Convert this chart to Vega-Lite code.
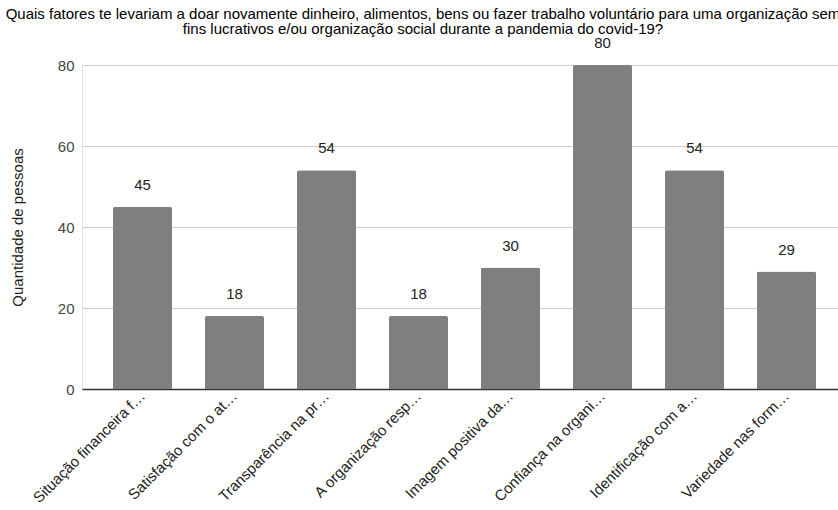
{
  "$schema": "https://vega.github.io/schema/vega-lite/v6.json",
  "autosize": {"type": "none"},
  "width": 756,
  "height": 324,
  "padding": {"left": 82, "top": 65, "right": 0, "bottom": 121},
  "background": "white",
  "title": {
    "text": [
      "Quais fatores te levariam a doar novamente dinheiro, alimentos, bens ou fazer trabalho voluntário para uma organização sem",
      "fins lucrativos e/ou organização social durante a pandemia do covid-19?"
    ],
    "anchor": "middle",
    "frame": "group",
    "dx": -37,
    "offset": -1,
    "font": "Liberation Sans",
    "fontSize": 15,
    "fontWeight": "normal",
    "color": "#000000",
    "lineHeight": 15
  },
  "data": {
    "values": [
      {"fator": "Situação financeira f…", "pessoas": 45},
      {"fator": "Satisfação com o at…", "pessoas": 18},
      {"fator": "Transparência na pr…", "pessoas": 54},
      {"fator": "A organização resp…", "pessoas": 18},
      {"fator": "Imagem positiva da…", "pessoas": 30},
      {"fator": "Confiança na organi…", "pessoas": 80},
      {"fator": "Identificação com a…", "pessoas": 54},
      {"fator": "Variedade nas form…", "pessoas": 29}
    ]
  },
  "encoding": {
    "x": {
      "field": "fator",
      "type": "nominal",
      "sort": null,
      "scale": {"paddingInner": 0.3587, "paddingOuter": 0.288, "align": 0.585},
      "axis": {
        "title": null,
        "labelAngle": -45,
        "labelAlign": "right",
        "labelBaseline": "middle",
        "labelFont": "Liberation Sans",
        "labelFontSize": 15,
        "labelColor": "#222222",
        "labelPadding": 4,
        "labelLimit": 220,
        "ticks": false,
        "domain": true,
        "domainColor": "#333333",
        "domainWidth": 1.5,
        "grid": false
      }
    },
    "y": {
      "field": "pessoas",
      "type": "quantitative",
      "scale": {"domain": [0, 80], "nice": false},
      "axis": {
        "title": "Quantidade de pessoas",
        "titleFont": "Liberation Sans",
        "titleFontSize": 15,
        "titleFontWeight": "normal",
        "titleColor": "#222222",
        "titlePadding": 32,
        "values": [0, 20, 40, 60, 80],
        "labelFont": "Liberation Sans",
        "labelFontSize": 15,
        "labelColor": "#444444",
        "labelPadding": 8,
        "ticks": false,
        "domain": false,
        "grid": true,
        "gridColor": "#cccccc",
        "gridWidth": 1
      }
    }
  },
  "layer": [
    {
      "mark": {"type": "bar", "color": "#7f7f7f", "cornerRadiusTopLeft": 2, "cornerRadiusTopRight": 2}
    },
    {
      "mark": {
        "type": "text",
        "baseline": "bottom",
        "dy": -14,
        "font": "Liberation Sans",
        "fontSize": 15,
        "color": "#222222"
      },
      "encoding": {"text": {"field": "pessoas", "type": "quantitative"}}
    }
  ]
}
